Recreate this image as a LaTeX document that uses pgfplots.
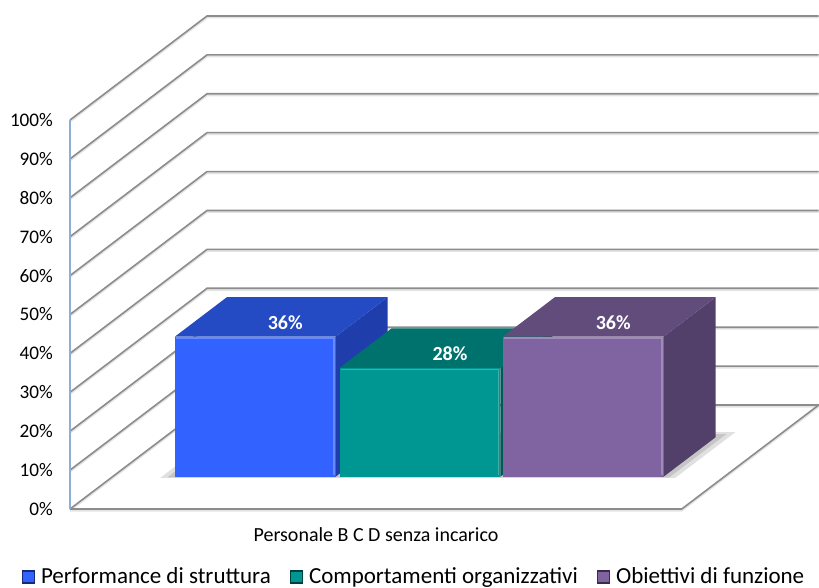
\documentclass[border=0pt]{standalone}
\usepackage{pgfplots}
\pgfplotsset{compat=1.18}
\usepackage{fontspec}
\setmainfont{Carlito}
\definecolor{bluefront}{RGB}{50,98,255}
\definecolor{bluetop}{RGB}{36,74,196}
\definecolor{blueside}{RGB}{31,62,172}
\definecolor{tealfront}{RGB}{0,150,146}
\definecolor{tealtop}{RGB}{0,114,110}
\definecolor{tealside}{RGB}{0,92,88}
\definecolor{purpfront}{RGB}{128,100,162}
\definecolor{purptop}{RGB}{98,76,124}
\definecolor{purpside}{RGB}{82,64,106}
\definecolor{axisblue}{RGB}{140,175,215}
\definecolor{gridgray}{RGB}{140,140,140}
\begin{document}
\begin{tikzpicture}
% ---------- 3D part: walls, floor, bars ----------
\begin{axis}[at={(35pt,-254.5pt)}, anchor=origin,
  x={(82pt,0pt)}, y={(68.5pt,52pt)}, z={(0pt,1.945pt)},
  xmin=0, xmax=3.73, ymin=0, ymax=1, zmin=0, zmax=100,
  hide axis, clip=false,
  gline/.style={draw=gridgray, line width=0.8pt},
  gshadow/.style={draw=gray!22, line width=0.9pt, yshift=-0.8pt},
  bshadow/.style={fill=black, fill opacity=0.12, draw=none}]
\pgfplotsinvokeforeach{10,20,30,40,50,60,70,80,90,100}{
  \addplot3[gshadow] coordinates {(0,0,#1) (0,1,#1) (3.73,1,#1)};
  \addplot3[gline] coordinates {(0,0,#1) (0,1,#1) (3.73,1,#1)};
}
\addplot3[gshadow] coordinates {(0,0,0) (0,1,0) (3.73,1,0) (3.73,0,0) (0,0,0)};
\addplot3[gline] coordinates {(0,0,0) (0,1,0) (3.73,1,0) (3.73,0,0) (0,0,0)};
% soft floor shadows
\addplot3[bshadow] coordinates {(0.30,0.30,0) (3.44,0.30,0) (3.44,0.74,0) (0.30,0.74,0)} -- cycle;
\addplot3[bshadow] coordinates {(0.34,0.305,0) (3.40,0.305,0) (3.40,0.72,0) (0.34,0.72,0)} -- cycle;
% Performance di struttura: 36
\addplot3[fill=blueside, draw=none] coordinates {(1.36,0.31,0) (1.36,0.69,0) (1.36,0.69,36) (1.36,0.31,36)} -- cycle;
\addplot3[fill=bluetop, draw=none] coordinates {(0.38,0.31,36) (1.36,0.31,36) (1.36,0.69,36) (0.38,0.69,36)} -- cycle;
\addplot3[fill=bluefront, draw=none] coordinates {(0.38,0.31,0) (1.36,0.31,0) (1.36,0.31,36) (0.38,0.31,36)} -- cycle;
\addplot3[draw=white, draw opacity=0.25, line width=0.8pt] coordinates {(0.39,0.31,35.6) (1.35,0.31,35.6) (1.35,0.31,0.4)};
% Comportamenti organizzativi: 28
\addplot3[fill=tealside, draw=none] coordinates {(2.365,0.31,0) (2.365,0.69,0) (2.365,0.69,28) (2.365,0.31,28)} -- cycle;
\addplot3[fill=tealtop, draw=none] coordinates {(1.385,0.31,28) (2.365,0.31,28) (2.365,0.69,28) (1.385,0.69,28)} -- cycle;
\addplot3[fill=tealfront, draw=none] coordinates {(1.385,0.31,0) (2.365,0.31,0) (2.365,0.31,28) (1.385,0.31,28)} -- cycle;
\addplot3[draw=white, draw opacity=0.25, line width=0.8pt] coordinates {(1.395,0.31,27.6) (2.355,0.31,27.6) (2.355,0.31,0.4)};
% Obiettivi di funzione: 36
\addplot3[fill=purpside, draw=none] coordinates {(3.36,0.31,0) (3.36,0.69,0) (3.36,0.69,36) (3.36,0.31,36)} -- cycle;
\addplot3[fill=purptop, draw=none] coordinates {(2.38,0.31,36) (3.36,0.31,36) (3.36,0.69,36) (2.38,0.69,36)} -- cycle;
\addplot3[fill=purpfront, draw=none] coordinates {(2.38,0.31,0) (3.36,0.31,0) (3.36,0.31,36) (2.38,0.31,36)} -- cycle;
\addplot3[draw=white, draw opacity=0.25, line width=0.8pt] coordinates {(2.39,0.31,35.6) (3.35,0.31,35.6) (3.35,0.31,0.4)};
% data labels
\node[text=white, font=\bfseries\fontsize{10}{12}\selectfont, xshift=2pt, yshift=-3pt] at (axis cs:0.87,0.5,36) {36\%};
\node[text=white, font=\bfseries\fontsize{10}{12}\selectfont, xshift=2pt, yshift=-3pt] at (axis cs:1.875,0.5,28) {28\%};
\node[text=white, font=\bfseries\fontsize{10}{12}\selectfont, xshift=2pt, yshift=-3pt] at (axis cs:2.87,0.5,36) {36\%};
\end{axis}
% ---------- 2D part: value axis, category label, legend ----------
\begin{axis}[at={(35pt,-254.5pt)}, anchor=origin,
  x=0.5pt, y=1.945pt, xmin=0, xmax=612, ymin=0, ymax=100,
  hide x axis, axis y line*=left,
  y axis line style={draw=axisblue, line width=0.9pt},
  ytick={0,10,20,30,40,50,60,70,80,90,100},
  yticklabels={0\%,10\%,20\%,30\%,40\%,50\%,60\%,70\%,80\%,90\%,100\%},
  major tick length=0pt,
  yticklabel style={font=\fontsize{9.6}{11}\selectfont, xshift=-5pt},
  clip=false,
  legend columns=3,
  legend style={at={(0.563,-0.175)}, anchor=center, draw=none, fill=none,
    font=\fontsize{11.5}{13}\selectfont,
    /tikz/every even column/.append style={column sep=8pt},
    nodes={inner sep=1.5pt}},
  legend image code/.code={\draw[#1] (0pt,-3pt) rectangle (6pt,3pt);}]
\addlegendimage{fill=bluefront, draw=blueside!70!black, line width=0.6pt}
\addlegendentry{\hspace{1.5pt}Performance di struttura}
\addlegendimage{fill=tealfront, draw=tealside!70!black, line width=0.6pt}
\addlegendentry{\hspace{1.5pt}Comportamenti organizzativi}
\addlegendimage{fill=purpfront, draw=purpside!70!black, line width=0.6pt}
\addlegendentry{\hspace{1.5pt}Obiettivi di funzione}
\node[font=\fontsize{10}{12}\selectfont] at (axis cs:306,-6.7) {Personale B C D senza incarico};
\end{axis}
\pgfresetboundingbox
\path[use as bounding box] (0pt,0pt) rectangle (409.5pt,-294pt);
\end{tikzpicture}
\end{document}
